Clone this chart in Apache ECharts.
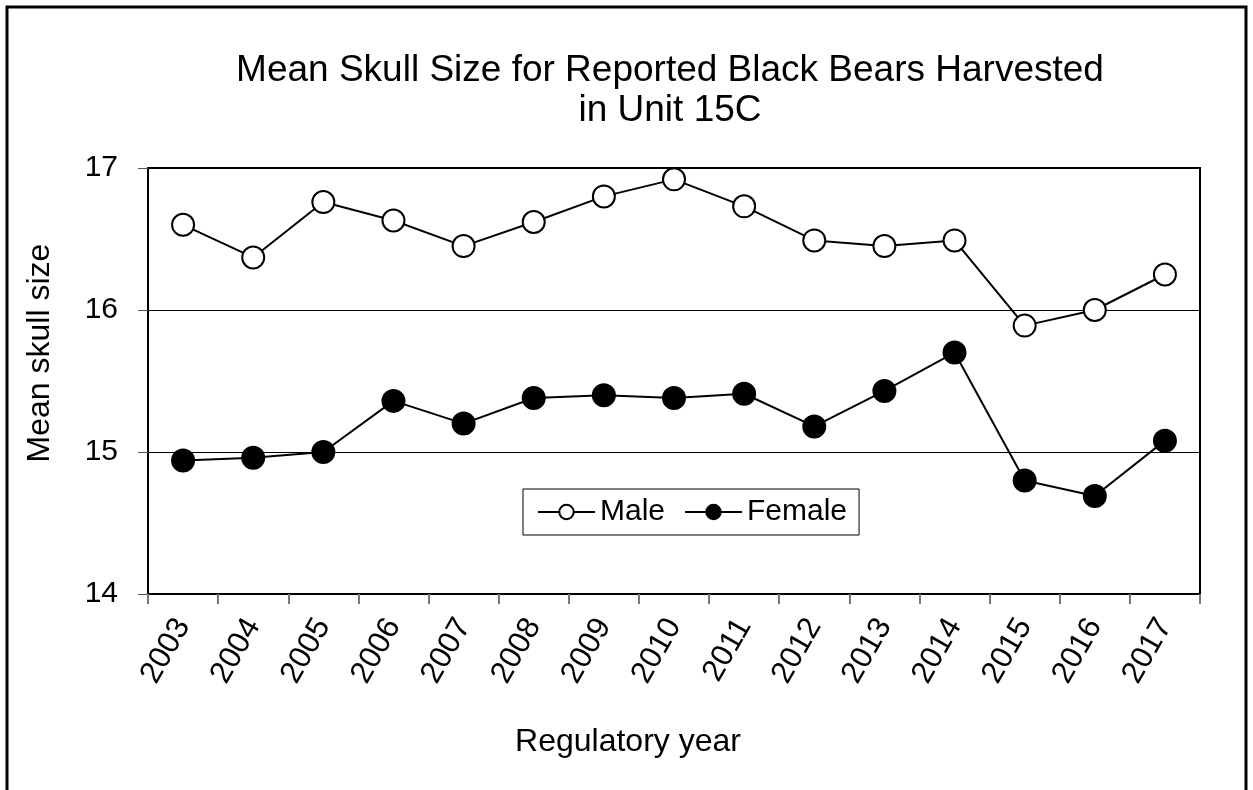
<!DOCTYPE html>
<html>
<head>
<meta charset="utf-8">
<script src="https://cdn.jsdelivr.net/npm/echarts@6/dist/echarts.min.js"></script>
<style>
  html, body { margin: 0; padding: 0; background: #fff; }
  #main { width: 1253px; height: 790px; }
</style>
</head>
<body>
<div id="main"></div>
<script>
var years = ['2003', '2004', '2005', '2006', '2007', '2008', '2009', '2010',
             '2011', '2012', '2013', '2014', '2015', '2016', '2017'];
var male = [16.60, 16.37, 16.76, 16.63, 16.45, 16.62, 16.80, 16.92,
            16.73, 16.49, 16.45, 16.49, 15.89, 16.00, 16.25];
var female = [14.94, 14.96, 15.00, 15.36, 15.20, 15.38, 15.40, 15.38,
              15.41, 15.18, 15.43, 15.70, 14.80, 14.69, 15.08];

var font = 'Liberation Sans, Arial, sans-serif';
var myChart = echarts.init(document.getElementById('main'));

var option = {
    backgroundColor: '#fff',
    animation: false,
    title: {
        text: 'Mean Skull Size for Reported Black Bears Harvested\nin Unit 15C',
        left: 665,
        top: 46,
        textAlign: 'center',
        textStyle: {
            fontFamily: font,
            fontWeight: 'normal',
            fontSize: 37,
            color: '#000',
            lineHeight: 40
        }
    },
    graphic: [{
        type: 'rect',
        shape: { x: 7, y: 7, width: 1239, height: 800 },
        style: { fill: 'none', stroke: '#000', lineWidth: 3 },
        silent: true
    }],
    legend: {
        left: 523,
        top: 489,
        padding: [8, 12, 8, 14],
        itemGap: 19,
        itemWidth: 57,
        itemHeight: 18,
        borderColor: '#000',
        borderWidth: 1,
        textStyle: { fontFamily: font, fontSize: 30, color: '#000' },
        data: ['Male', 'Female']
    },
    grid: {
        left: 148,
        right: 53,
        top: 168,
        bottom: 196,
        show: true,
        borderColor: '#000',
        borderWidth: 2,
        backgroundColor: 'transparent'
    },
    xAxis: {
        type: 'category',
        data: years,
        boundaryGap: true,
        name: 'Regulatory year',
        nameLocation: 'middle',
        nameGap: 132,
        nameTextStyle: { fontFamily: font, fontSize: 32, color: '#000', padding: [0, 92, 0, 0] },
        axisLine: { lineStyle: { color: '#000', width: 2 } },
        axisTick: { show: true, length: 10, lineStyle: { color: '#777', width: 2 } },
        axisLabel: {
            rotate: 60,
            margin: 27,
            fontFamily: font,
            fontSize: 31,
            color: '#000'
        }
    },
    yAxis: {
        type: 'value',
        min: 14,
        max: 17,
        interval: 1,
        name: 'Mean skull size',
        nameLocation: 'middle',
        nameGap: 92,
        nameTextStyle: { fontFamily: font, fontSize: 32, color: '#000', padding: [0, 0, 0, 56] },
        axisLine: { show: true, lineStyle: { color: '#000', width: 2 } },
        axisTick: { show: true, length: 10, lineStyle: { color: '#555', width: 1 } },
        axisLabel: { fontFamily: font, fontSize: 30, color: '#000', margin: 30 },
        splitLine: { show: true, lineStyle: { color: '#000', width: 1 } }
    },
    series: [
        {
            name: 'Male',
            type: 'line',
            data: male,
            symbol: 'circle',
            symbolSize: 22,
            lineStyle: { color: '#000', width: 2 },
            itemStyle: { color: '#fff', borderColor: '#000', borderWidth: 2 }
        },
        {
            name: 'Female',
            type: 'line',
            data: female,
            symbol: 'circle',
            symbolSize: 22,
            lineStyle: { color: '#000', width: 2 },
            itemStyle: { color: '#000', borderColor: '#000', borderWidth: 2 }
        }
    ]
};
myChart.setOption(option);
</script>
</body>
</html>
